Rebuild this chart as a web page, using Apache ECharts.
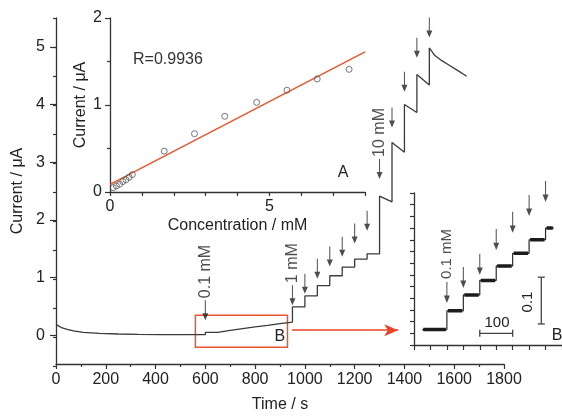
<!DOCTYPE html>
<html>
<head>
<meta charset="utf-8">
<script src="https://cdn.jsdelivr.net/npm/echarts@6/dist/echarts.min.js"></script>
<style>
html, body { margin: 0; padding: 0; background: #fff; }
#chart { width: 562px; height: 418px; }
</style>
</head>
<body>
<div id="chart"></div>
<script>
// 主曲线：开始的背景电流衰减段 (s, μA)
const decayTime = [0, 10, 25, 45, 70, 110, 175, 250, 330, 420, 525, 600];
const decayCurrent = [0.19, 0.16, 0.125, 0.1, 0.075, 0.05, 0.03, 0.02, 0.013, 0.01, 0.008, 0.008];

// 0.1 mM 加样：时间和加样后的台阶电流
const stepTime01 = [600, 650, 700, 750, 800, 850, 900];
const stepCurrent01 = [0.048, 0.082, 0.113, 0.144, 0.171, 0.2, 0.225];
const arrowTip01 = [0.065, 0.097, 0.125, 0.178, 0.215, 0.251, 0.281]; // 插图 B 中的箭头
const mainArrowTip01 = 0.26;

// 1 mM 加样
const stepTime1 = [950, 1000, 1050, 1100, 1150, 1200, 1250];
const stepCurrent1 = [0.49, 0.68, 0.86, 1.03, 1.18, 1.32, 1.41];
const arrowTip1 = [0.52, 0.72, 0.98, 1.19, 1.36, 1.59, 1.81];

// 10 mM 加样：峰值和下一次加样前的电流
const stepTime10 = [1300, 1350, 1400, 1450, 1500];
const peakCurrent10 = [2.41, 3.34, 4.0, 4.52, 4.98];
const endCurrent10 = [2.31, 3.17, 3.86, 4.34];
const arrowTip10 = [2.71, 3.6, 4.22, 4.81, 5.16];
const tailTime = [1520, 1550, 1580, 1610, 1650];
const tailCurrent = [4.86, 4.76, 4.68, 4.6, 4.49];

// 插图 A：校准曲线
const concA = [0.1, 0.2, 0.3, 0.4, 0.5, 0.6, 0.7, 1.7, 2.65, 3.6, 4.6, 5.55, 6.5, 7.5];
const currentA = [0.05, 0.07, 0.09, 0.12, 0.14, 0.17, 0.2, 0.47, 0.67, 0.87, 1.03, 1.17, 1.3, 1.41];
const fitConc = [0, 8];
const fitCurrent = [0.088, 1.61];

// 插图 B：时间范围、比例尺
const insetStart = 525, insetEnd = 925;
const scaleBarTime = [700, 800];
const scaleBarTimeAt = 0;
const scaleBarCurrent = [0.02, 0.12];
const scaleBarCurrentAt = 887;

// 主图上的方框 B 和红色箭头
const boxTime = [560, 930];
const boxCurrent = [-0.21, 0.345];
const linkTime = [948, 1375];
const linkCurrent = 0.086;

const FONT = '"Liberation Sans", Arial, Helvetica, sans-serif';
const AX = '#333';
const TXT = '#222';

// 组装主曲线
const mainData = [];
decayTime.forEach((t, i) => mainData.push([t, decayCurrent[i]]));
let prev = decayCurrent[decayCurrent.length - 1];
[[stepTime01, stepCurrent01], [stepTime1, stepCurrent1]].forEach(([times, levels]) => {
  times.forEach((t, i) => {
    mainData.push([t, prev]);
    mainData.push([t, levels[i]]);
    prev = levels[i];
  });
});
stepTime10.forEach((t, i) => {
  mainData.push([t, prev]);
  mainData.push([t, peakCurrent10[i]]);
  prev = endCurrent10[i];
});
tailTime.forEach((t, i) => mainData.push([t, tailCurrent[i]]));

// 插图 B 的台阶数据：细线连接 + 粗的噪声平台
const base = decayCurrent[decayCurrent.length - 1];
const insetData = [[insetStart, base]];
const insetLevels = [];
const levelStarts = [insetStart].concat(stepTime01);
const levelEnds = stepTime01.concat([insetEnd]);
const levelValues = [base].concat(stepCurrent01);
let lvl = base;
stepTime01.forEach((t, i) => {
  insetData.push([t, lvl]);
  insetData.push([t, stepCurrent01[i]]);
  lvl = stepCurrent01[i];
});
insetData.push([insetEnd, lvl]);
levelValues.forEach((v, i) => {
  insetLevels.push([levelStarts[i] + 3, v], [levelEnds[i] - 3, v], null);
});

// 箭头
const mainArrows = [{ value: [stepTime01[0], mainArrowTip01], name: '0.1 mM' }];
stepTime1.forEach((t, i) => mainArrows.push({ value: [t, arrowTip1[i]], name: i === 0 ? '1 mM' : '' }));
stepTime10.forEach((t, i) => mainArrows.push({ value: [t, arrowTip10[i]], name: i === 0 ? '10 mM' : '' }));
const insetArrows = stepTime01.map((t, i) => ({ value: [t, arrowTip01[i]], name: i === 0 ? '0.1 mM' : '' }));

const ARROW = 'path://M2.5,0 L3.5,0 L3.5,13 L6,13 L3,20 L0,13 L2.5,13 Z';

function line(w) { return { color: AX, width: w }; }
const hidden = { show: false };

const chart = echarts.init(document.getElementById('chart'));

const option = {
  animation: false,
  backgroundColor: '#fff',
  textStyle: { fontFamily: FONT },
  grid: [
    { left: 56, top: 18, width: 448, height: 348, containLabel: false },
    { left: 110, top: 18, width: 255, height: 174, containLabel: false },
    { left: 414, top: 193, width: 148.5, height: 152, containLabel: false },
    { left: 56, top: 18, width: 448, height: 348, containLabel: false }
  ],
  xAxis: [
    {
      gridIndex: 0, type: 'value', min: 0, max: 1800, interval: 200,
      name: 'Time / s', nameLocation: 'middle', nameGap: 33,
      nameTextStyle: { color: TXT, fontSize: 16, fontFamily: FONT },
      axisLine: { onZero: false, lineStyle: line(1.3) },
      axisTick: { length: 5, lineStyle: line(1.2) },
      minorTick: { show: true, splitNumber: 2, length: 3, lineStyle: line(1.2) },
      axisLabel: { color: TXT, fontSize: 16, fontFamily: FONT, margin: 8, formatter: v => String(v) },
      splitLine: hidden
    },
    {
      gridIndex: 1, type: 'value', min: 0, max: 8, interval: 1,
      name: 'Concentration / mM', nameLocation: 'middle', nameGap: 26,
      nameTextStyle: { color: TXT, fontSize: 16, fontFamily: FONT },
      axisLine: { onZero: false, lineStyle: line(1.3) },
      axisTick: { length: 4, lineStyle: line(1.2) },
      axisLabel: { color: TXT, fontSize: 16, fontFamily: FONT, margin: 7,
        formatter: v => (v % 5 === 0 ? String(v) : '') },
      splitLine: hidden
    },
    {
      gridIndex: 2, type: 'value', min: 500, max: 950, interval: 50,
      axisLine: { onZero: false, lineStyle: line(1.3) },
      axisTick: { length: 5, lineStyle: line(1.2) },
      axisLabel: hidden,
      splitLine: hidden
    },
    { gridIndex: 3, type: 'value', min: 0, max: 1800, show: false }
  ],
  yAxis: [
    {
      gridIndex: 0, type: 'value', min: -0.5, max: 5.5, interval: 0.5,
      name: 'Current / \u03bcA', nameLocation: 'middle', nameGap: 30,
      nameTextStyle: { color: TXT, fontSize: 16, fontFamily: FONT },
      axisLine: { onZero: false, lineStyle: line(1.3) },
      axisTick: { length: 6, lineStyle: line(1.2), customValues: [0, 1, 2, 3, 4, 5] },
      axisLabel: { color: TXT, fontSize: 16, fontFamily: FONT, margin: 11,
        customValues: [0, 1, 2, 3, 4, 5],
        formatter: v => (Number.isInteger(v) ? String(v) : '') },
      splitLine: hidden
    },
    {
      gridIndex: 1, type: 'value', min: 0, max: 2, interval: 1,
      name: 'Current / \u03bcA', nameLocation: 'middle', nameGap: 21,
      nameTextStyle: { color: TXT, fontSize: 16, fontFamily: FONT },
      axisLine: { onZero: false, lineStyle: line(1.3) },
      axisTick: { length: 5, lineStyle: line(1.2) },
      minorTick: { show: true, splitNumber: 2, length: 3, lineStyle: line(1.2) },
      axisLabel: { color: TXT, fontSize: 16, fontFamily: FONT, margin: 8 },
      splitLine: hidden
    },
    {
      gridIndex: 2, type: 'value', min: -0.025, max: 0.3, interval: 0.025,
      axisLine: { onZero: false, lineStyle: line(1.3) },
      axisTick: { length: 4, lineStyle: line(1.2) },
      axisLabel: hidden,
      splitLine: hidden
    },
    {
      // 主图 y 轴的半格小刻度
      gridIndex: 3, type: 'value', min: -0.5, max: 5.5, interval: 0.5,
      axisLine: hidden,
      axisTick: { length: 3, lineStyle: line(1.2) },
      axisLabel: hidden,
      splitLine: hidden
    }
  ],
  series: [
    {
      name: 'main', type: 'line', xAxisIndex: 0, yAxisIndex: 0,
      data: mainData, showSymbol: false, silent: true,
      lineStyle: { color: '#3a3a3a', width: 1.3 },
      markArea: {
        silent: true,
        itemStyle: { color: 'rgba(0,0,0,0)', borderColor: '#e8552f', borderWidth: 1.5 },
        label: { show: true, position: 'insideBottomRight', distance: 3, formatter: 'B',
          color: TXT, fontSize: 16, fontFamily: FONT },
        data: [[{ coord: [boxTime[0], boxCurrent[1]] }, { coord: [boxTime[1], boxCurrent[0]] }]]
      },
      markLine: {
        silent: true, symbol: ['none', 'arrow'], symbolSize: [9, 14],
        label: { show: false },
        lineStyle: { color: '#e8452a', width: 1.5, type: 'solid' },
        data: [[{ coord: [linkTime[0], linkCurrent] }, { coord: [linkTime[1], linkCurrent] }]]
      }
    },
    {
      name: 'arrows', type: 'scatter', xAxisIndex: 0, yAxisIndex: 0, silent: true,
      data: mainArrows, symbol: ARROW, symbolSize: [6, 20], symbolOffset: [0, '-50%'],
      itemStyle: { color: '#222' },
      label: { show: true, position: 'top', rotate: 90, align: 'left', verticalAlign: 'middle',
        distance: 2, formatter: '{b}', color: TXT, fontSize: 16, fontFamily: FONT },
      z: 5
    },
    {
      name: 'calib', type: 'scatter', xAxisIndex: 1, yAxisIndex: 1, silent: true,
      data: concA.map((c, i) => [c, currentA[i]]),
      symbol: 'circle', symbolSize: 6,
      itemStyle: { color: 'rgba(255,255,255,0)', borderColor: '#555', borderWidth: 1 },
      z: 4
    },
    {
      name: 'fit', type: 'line', xAxisIndex: 1, yAxisIndex: 1, silent: true,
      data: fitConc.map((c, i) => [c, fitCurrent[i]]),
      showSymbol: false, lineStyle: { color: '#e8562f', width: 1.5 }
    },
    {
      name: 'insetB', type: 'line', xAxisIndex: 2, yAxisIndex: 2, silent: true,
      data: insetData, showSymbol: false,
      lineStyle: { color: '#2a2a2a', width: 1.2 }
    },
    {
      name: 'insetLevels', type: 'line', xAxisIndex: 2, yAxisIndex: 2, silent: true,
      data: insetLevels, showSymbol: false, connectNulls: false,
      lineStyle: { color: '#1c1c1c', width: 3.5 }
    },
    {
      name: 'insetArrows', type: 'scatter', xAxisIndex: 2, yAxisIndex: 2, silent: true,
      data: insetArrows, symbol: ARROW, symbolSize: [6, 21], symbolOffset: [0, '-50%'],
      itemStyle: { color: '#222' },
      label: { show: true, position: 'top', rotate: 90, align: 'left', verticalAlign: 'middle',
        distance: 3, formatter: '{b}', color: TXT, fontSize: 15, fontFamily: FONT },
      z: 5
    },
    {
      name: 'barTime', type: 'line', xAxisIndex: 2, yAxisIndex: 2, silent: true,
      data: scaleBarTime.map(t => [t, scaleBarTimeAt]),
      symbol: 'rect', symbolSize: [1.3, 7], showSymbol: true,
      itemStyle: { color: '#444' }, lineStyle: { color: '#444', width: 1.3 }
    },
    {
      name: 'barCurrent', type: 'line', xAxisIndex: 2, yAxisIndex: 2, silent: true,
      data: scaleBarCurrent.map(v => [scaleBarCurrentAt, v]),
      symbol: 'rect', symbolSize: [7, 1.3], showSymbol: true,
      itemStyle: { color: '#444' }, lineStyle: { color: '#444', width: 1.3 }
    }
  ],
  graphic: [
    { type: 'text', x: 133, y: 60, style: { text: 'R=0.9936', fontSize: 16, fontFamily: FONT, fill: '#333', align: 'left', verticalAlign: 'middle' } },
    { type: 'text', x: 343, y: 173, style: { text: 'A', fontSize: 16, fontFamily: FONT, fill: TXT, align: 'center', verticalAlign: 'middle' } },
    { type: 'text', x: 557, y: 336, style: { text: 'B', fontSize: 16, fontFamily: FONT, fill: TXT, align: 'center', verticalAlign: 'middle' } },
    { type: 'text', x: 497, y: 323, style: { text: '100', fontSize: 15, fontFamily: FONT, fill: TXT, align: 'center', verticalAlign: 'middle' } },
    { type: 'text', x: 528, y: 302, rotation: Math.PI / 2, style: { text: '0.1', fontSize: 15, fontFamily: FONT, fill: TXT, align: 'center', verticalAlign: 'middle' } }
  ]
};

chart.setOption(option);
</script>
</body>
</html>
